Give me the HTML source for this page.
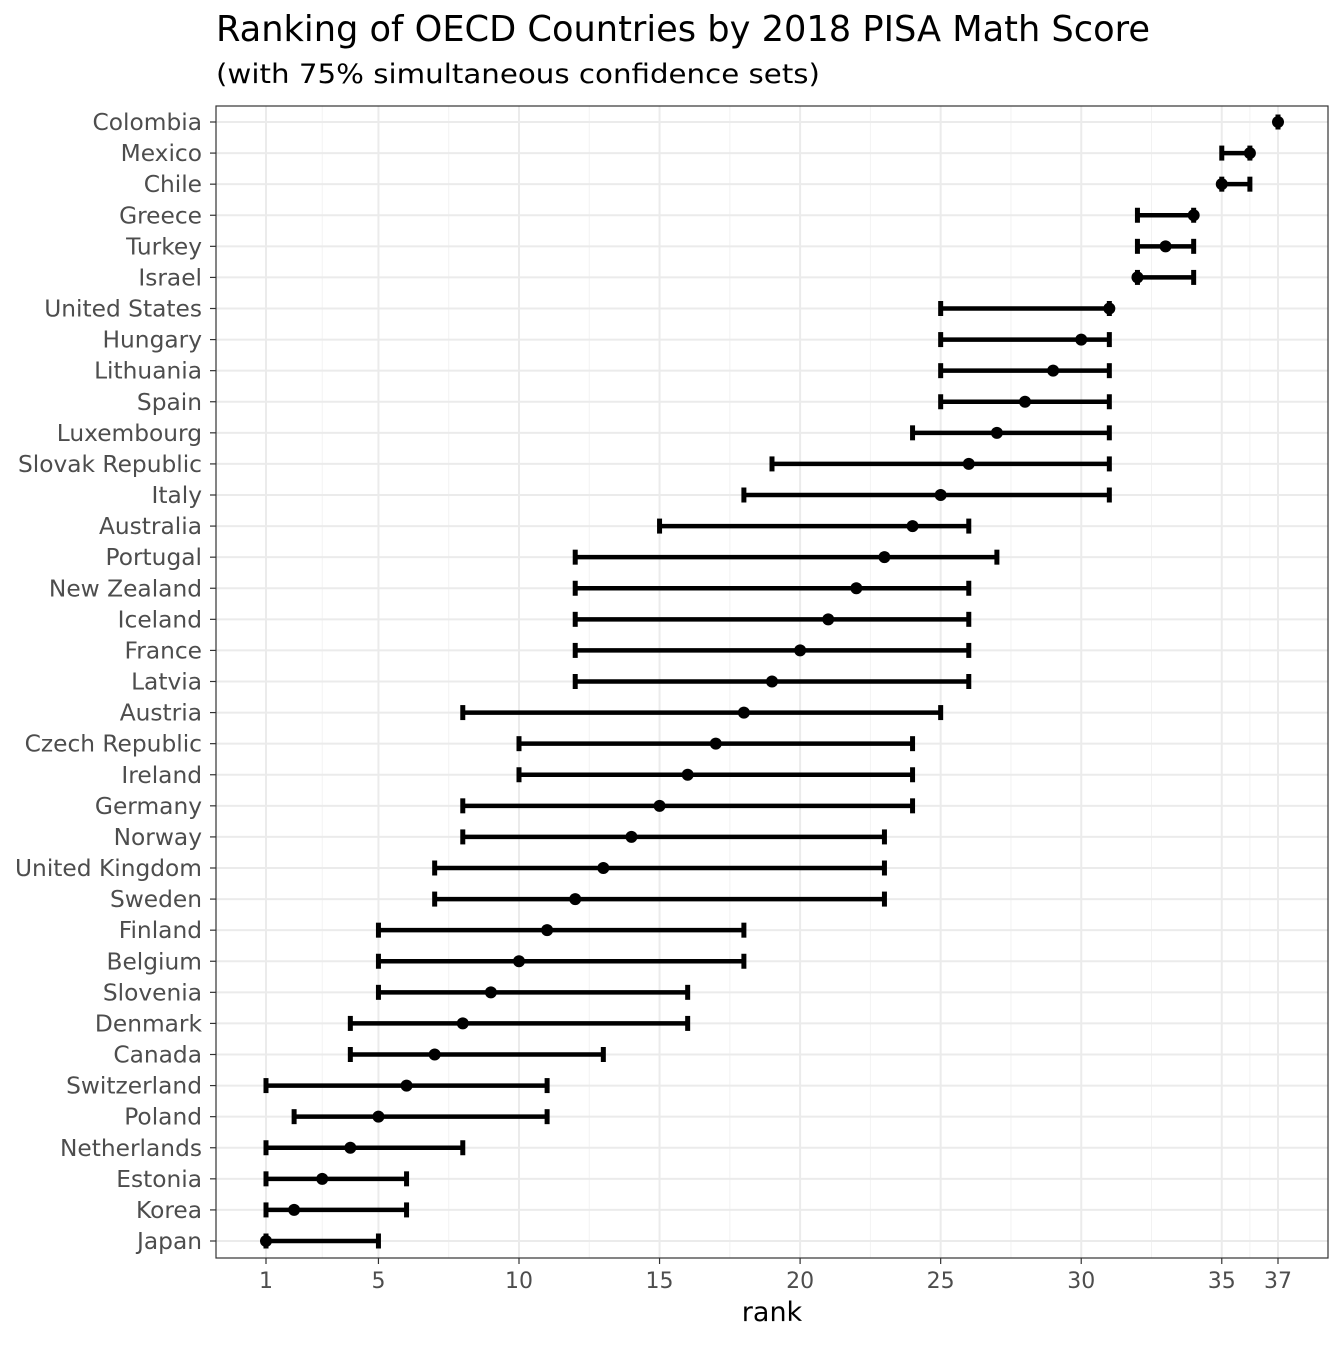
<!DOCTYPE html>
<html><head><meta charset="utf-8"><style>
body{margin:0;background:#fff;font-family:"DejaVu Sans","Liberation Sans",sans-serif}
</style></head><body>
<svg id="c" width="1344" height="1344" xmlns="http://www.w3.org/2000/svg">
<text x="216" y="41" font-family="DejaVu Sans, sans-serif" font-size="35.2" fill="#000">Ranking of OECD Countries by 2018 PISA Math Score</text>
<text x="216" y="83" font-family="DejaVu Sans, sans-serif" font-size="27" textLength="604" lengthAdjust="spacingAndGlyphs" fill="#000">(with 75% simultaneous confidence sets)</text>
<g id="grid"></g><g id="marks"></g><g id="axes"></g>
<rect x="216" y="106" width="1112" height="1152" fill="none" stroke="#333" stroke-width="1.2"/>
<text x="772" y="1321" text-anchor="middle" font-family="DejaVu Sans, sans-serif" font-size="27">rank</text>
</svg>
<script>
const countries=["Colombia","Mexico","Chile","Greece","Turkey","Israel","United States","Hungary","Lithuania","Spain","Luxembourg","Slovak Republic","Italy","Australia","Portugal","New Zealand","Iceland","France","Latvia","Austria","Czech Republic","Ireland","Germany","Norway","United Kingdom","Sweden","Finland","Belgium","Slovenia","Denmark","Canada","Switzerland","Poland","Netherlands","Estonia","Korea","Japan"];
const rankVals=[37,36,35,34,33,32,31,30,29,28,27,26,25,24,23,22,21,20,19,18,17,16,15,14,13,12,11,10,9,8,7,6,5,4,3,2,1];
const lowerVals=[37,35,35,32,32,32,25,25,25,25,24,19,18,15,12,12,12,12,12,8,10,10,8,8,7,7,5,5,5,4,4,1,2,1,1,1,1];
const upperVals=[37,36,36,34,34,34,31,31,31,31,31,31,31,26,27,26,26,26,26,25,24,24,24,23,23,23,18,18,16,16,13,11,11,8,6,6,5];
const xTicks=[1,5,10,15,20,25,30,35,37];
const xMinor=[3,7.5,12.5,17.5,22.5,27.5,32.5,36];
const NS="http://www.w3.org/2000/svg";
const x=v=>266+(v-1)*(1012/36);
const y=i=>122+i*(1119/36);
function mk(p,t,a){const e=document.createElementNS(NS,t);for(const k in a)e.setAttribute(k,a[k]);p.appendChild(e);return e;}
const G=document.getElementById('grid'),M=document.getElementById('marks'),A=document.getElementById('axes');
xMinor.forEach(v=>{const l=mk(G,'line',{x1:x(v),x2:x(v),y1:106,y2:1258,stroke:'#f2f2f2','stroke-width':1});

});
xTicks.forEach(v=>{const l=mk(G,'line',{x1:x(v),x2:x(v),y1:106,y2:1258,stroke:'#ebebeb','stroke-width':2});


const t=mk(A,'line',{x1:x(v),x2:x(v),y1:1258,y2:1264,stroke:'#333','stroke-width':1.2});


const tx=mk(A,'text',{x:x(v),y:1288,'text-anchor':'middle','font-size':22,fill:'#4d4d4d','font-family':'DejaVu Sans, sans-serif'});tx.textContent=v;

});
countries.forEach((c,i)=>{const yy=y(i);
const g=mk(G,'line',{x1:216,x2:1328,y1:yy,y2:yy,stroke:'#ebebeb','stroke-width':2});


const t=mk(A,'line',{x1:210,x2:216,y1:yy,y2:yy,stroke:'#333','stroke-width':1.2});


const tx=mk(A,'text',{x:202,y:yy+8,'text-anchor':'end','font-size':23.3,fill:'#4d4d4d','font-family':'DejaVu Sans, sans-serif'});tx.textContent=c;


const g2=mk(M,'g',{});


const x1=x(lowerVals[i]),x2=x(upperVals[i]);
mk(g2,'line',{x1:x1,x2:x2,y1:yy,y2:yy,stroke:'#000','stroke-width':4.5});
mk(g2,'line',{x1:x1,x2:x1,y1:yy-7.5,y2:yy+7.5,stroke:'#000','stroke-width':5});
mk(g2,'line',{x1:x2,x2:x2,y1:yy-7.5,y2:yy+7.5,stroke:'#000','stroke-width':5});
const p=mk(M,'circle',{cx:x(rankVals[i]),cy:yy,r:6,fill:'#000'});


});
</script>
</body></html>
